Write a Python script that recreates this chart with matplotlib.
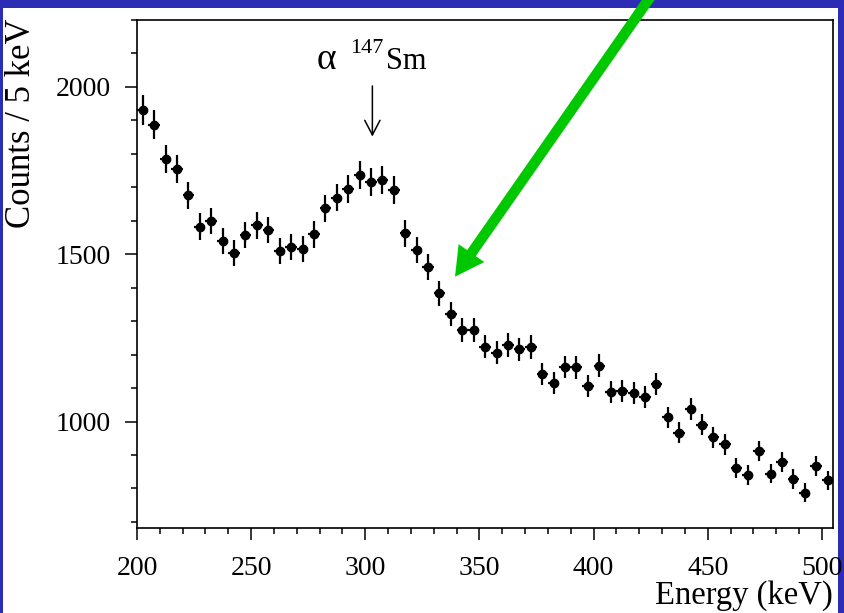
import matplotlib
matplotlib.use("Agg")
import matplotlib.pyplot as plt
import numpy as np
from matplotlib.patches import FancyArrowPatch, Rectangle
from matplotlib.ticker import MultipleLocator

# bin centres (keV) and counts per 5 keV
energy = [202.5, 207.5, 212.5, 217.5, 222.5, 227.5, 232.5, 237.5, 242.5, 247.5,
          252.5, 257.5, 262.5, 267.5, 272.5, 277.5, 282.5, 287.5, 292.5, 297.5,
          302.5, 307.5, 312.5, 317.5, 322.5, 327.5, 332.5, 337.5, 342.5, 347.5,
          352.5, 357.5, 362.5, 367.5, 372.5, 377.5, 382.5, 387.5, 392.5, 397.5,
          402.5, 407.5, 412.5, 417.5, 422.5, 427.5, 432.5, 437.5, 442.5, 447.5,
          452.5, 457.5, 462.5, 467.5, 472.5, 477.5, 482.5, 487.5, 492.5, 497.5,
          502.5]
counts = [1930, 1886, 1784, 1754, 1675, 1582, 1599, 1539, 1504, 1557,
          1586, 1572, 1510, 1521, 1515, 1559, 1637, 1669, 1694, 1736,
          1716, 1722, 1692, 1562, 1513, 1461, 1383, 1321, 1274, 1272,
          1224, 1205, 1229, 1216, 1222, 1142, 1115, 1163, 1162, 1107,
          1166, 1087, 1091, 1084, 1073, 1112, 1013, 966, 1037, 990,
          953, 932, 861, 840, 913, 844, 879, 828, 788, 867,
          824]
bin_half = 2.5

x_ticks = [200, 250, 300, 350, 400, 450, 500]
y_ticks = [1000, 1500, 2000]

plt.rcParams["font.family"] = ["Liberation Serif", "DejaVu Serif"]

W, H = 844, 613
fig = plt.figure(figsize=(W / 100, H / 100), dpi=100, facecolor="#2c2cb4")
# white slide panel behind everything, blue frame left round it
fig.patches.append(Rectangle((3 / W, 0), (838 - 3) / W, 1 - 8 / H,
                             transform=fig.transFigure, facecolor="white",
                             edgecolor="none", zorder=-10))

ax = fig.add_axes([137 / W, 1 - 528 / H, (833.3 - 137) / W, (528 - 19.7) / H])
ax.set_facecolor("white")

counts = np.array(counts)
ax.errorbar(energy, counts, yerr=np.sqrt(counts), xerr=bin_half, fmt="o",
            color="black", ms=6, elinewidth=1.6, capsize=0, zorder=3)

ax.set_xlim(200, 505)
ax.set_ylim(682, 2200)
ax.set_xticks(x_ticks)
ax.set_yticks(y_ticks)
ax.xaxis.set_minor_locator(MultipleLocator(10))
ax.yaxis.set_minor_locator(MultipleLocator(100))
ax.tick_params(which="both", direction="out", top=False, right=False,
               width=1.1, labelsize=20)
ax.tick_params(which="major", length=8.5)
ax.tick_params(which="minor", length=4)
ax.tick_params(axis="x", pad=12)
ax.tick_params(axis="y", pad=10.5)
for sp in ax.spines.values():
    sp.set_linewidth(1.2)

fig.text(833 / W, 1 - 604 / H, "Energy (keV)", ha="right", va="baseline",
         fontsize=23.5)
fig.text(22 / W, 1 - 18 / H, "Counts / 5 keV", rotation=90, ha="center",
         va="top", fontsize=25)

# alpha 147Sm label and marker arrow
ax.text(278.5, 2052, "\u03b1", fontsize=27, ha="left", va="baseline")
ax.text(293.5, 2100, "147", fontsize=16, ha="left", va="baseline")
ax.text(309.1, 2052, "Sm", fontsize=22, ha="left", va="baseline")
ax.annotate("", xy=(303.1, 1851), xytext=(303.1, 2002),
            arrowprops=dict(arrowstyle="->,head_width=0.55,head_length=1.05",
                            lw=1.1, color="black", shrinkA=0, shrinkB=0))

# green pointer arrow coming in from the top
green = FancyArrowPatch((651 / W, 1 + 4 / H), (455 / W, 1 - 276.7 / H),
                        transform=fig.transFigure,
                        arrowstyle="simple,head_width=1.25,head_length=1.15,tail_width=0.42",
                        mutation_scale=18, color="#00c800", lw=0,
                        shrinkA=0, shrinkB=0, zorder=10)
fig.patches.append(green)

fig.savefig("out.png", dpi=100, facecolor=fig.get_facecolor())
